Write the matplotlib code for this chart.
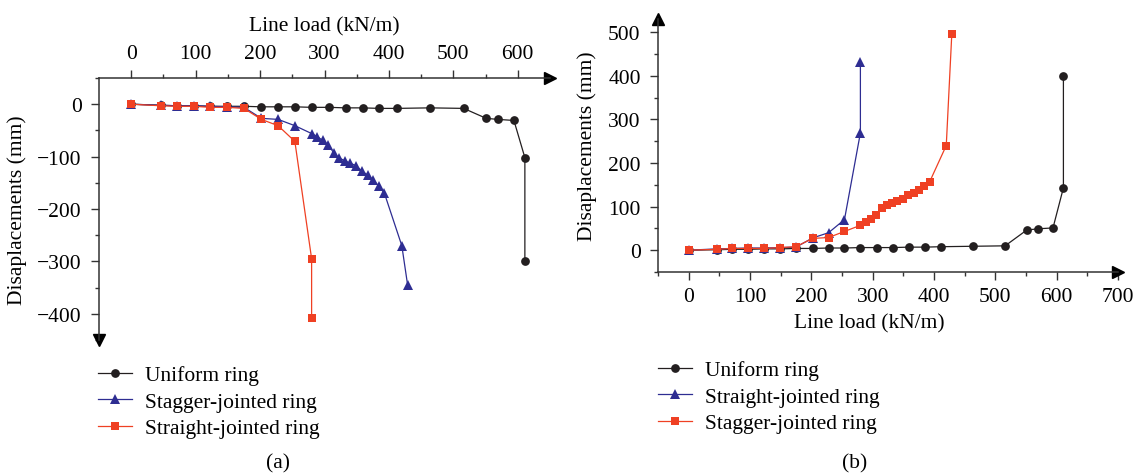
import matplotlib
matplotlib.use("Agg")
import matplotlib.pyplot as plt
from matplotlib.ticker import FixedLocator

plt.rcParams['font.family'] = ['Liberation Serif', 'DejaVu Serif']
plt.rcParams['font.size'] = 15.5

# line loads (kN/m)
load_uniform = [0, 46, 71, 97, 123, 149, 175, 202, 228, 254, 280, 307, 333, 359,
                385, 412, 464, 516, 551, 569, 594, 611, 611]
load_stagger = [0, 46, 71, 97, 123, 149, 175, 202, 228, 254, 280, 289, 297, 306,
                315, 323, 332, 340, 349, 358, 367, 375, 384, 393, 420, 429]
load_straight = [0, 46, 71, 97, 123, 149, 175, 202, 228, 254, 280, 280]

# (a) displacements, mm
disp_a_uniform = [0, -2, -3, -3, -4, -4, -4, -5, -5, -5, -6, -6, -7, -7, -8, -8,
                  -7, -8, -27, -29, -31, -102, -300]
disp_a_stagger = [0, -2, -3, -3, -4, -5, -6, -27, -29, -41, -56, -62, -69, -78,
                  -94, -103, -108, -113, -117, -128, -135, -144, -156, -170, -270, -345]
disp_a_straight = [0, -3, -4, -4, -6, -6, -8, -29, -41, -71, -295, -408]

# (b) displacements, mm
disp_b_uniform = [0, 1, 2, 2, 3, 3, 4, 4, 5, 5, 6, 6, 6, 7, 7, 8, 9, 10, 46, 49,
                  51, 143, 400]
disp_b_straight = [0, 3, 4, 5, 5, 6, 7, 28, 40, 70, 269, 432]
disp_b_stagger = [0, 2, 4, 4, 4, 6, 8, 27, 29, 43, 57, 65, 72, 80, 96, 104, 108,
                  113, 117, 126, 131, 137, 147, 157, 240, 495]

c_black = '#231f20'
c_blue = '#2e2d92'
c_red = '#ef4023'
spine_c = '#333333'

W, H = 1141, 477
fig = plt.figure(figsize=(W / 100, H / 100), dpi=100)

ax1 = fig.add_axes([99 / W, 1 - 341 / H, 451 / W, 262 / H])
ax2 = fig.add_axes([658 / W, 1 - 273 / H, 460 / W, 253 / H])

line_kw = dict(lw=0.9, markeredgewidth=0)

# (a)
ax1.plot(load_uniform, disp_a_uniform, '-o', color=c_black, ms=6.3,
         label='Uniform ring', **line_kw)
ax1.plot(load_stagger, disp_a_stagger, '-^', color=c_blue, ms=6.8,
         label='Stagger-jointed ring', **line_kw)
ax1.plot(load_straight, disp_a_straight, '-s', color=c_red, ms=6.2,
         label='Straight-jointed ring', **line_kw)
ax1.set_xlim(-50, 650)
ax1.set_ylim(-450, 50)
ax1.xaxis.set_ticks_position('top')
ax1.xaxis.set_label_position('top')
ax1.xaxis.set_major_locator(FixedLocator(range(0, 601, 100)))
ax1.xaxis.set_minor_locator(FixedLocator(range(50, 601, 100)))
ax1.yaxis.set_major_locator(FixedLocator(range(-400, 1, 100)))
ax1.yaxis.set_minor_locator(FixedLocator(range(-450, 51, 100)))
ax1.spines['right'].set_visible(False)
ax1.spines['bottom'].set_visible(False)
ax1.set_xlabel('Line load (kN/m)')
ax1.set_ylabel('Disaplacements (mm)')
ax1.xaxis.set_label_coords(0.5, 1.18)
ax1.yaxis.set_label_coords(-0.16, 0.5)
ax1.plot(1, 1, '>', color='black', ms=8, transform=ax1.transAxes, clip_on=False)
ax1.plot(0, 0, 'v', color='black', ms=8, transform=ax1.transAxes, clip_on=False)

# (b)
ax2.plot(load_uniform, disp_b_uniform, '-o', color=c_black, ms=6.3,
         label='Uniform ring', **line_kw)
ax2.plot(load_straight, disp_b_straight, '-^', color=c_blue, ms=6.8,
         label='Straight-jointed ring', **line_kw)
ax2.plot(load_stagger, disp_b_stagger, '-s', color=c_red, ms=6.2,
         label='Stagger-jointed ring', **line_kw)
ax2.set_xlim(-50, 700)
ax2.set_ylim(-50, 530)
ax2.xaxis.set_major_locator(FixedLocator(range(0, 701, 100)))
ax2.xaxis.set_minor_locator(FixedLocator(range(-50, 701, 100)))
ax2.yaxis.set_major_locator(FixedLocator(range(0, 501, 100)))
ax2.yaxis.set_minor_locator(FixedLocator(range(-50, 501, 100)))
ax2.spines['right'].set_visible(False)
ax2.spines['top'].set_visible(False)
ax2.set_xlabel('Line load (kN/m)')
ax2.set_ylabel('Disaplacements (mm)')
ax2.xaxis.set_label_coords(0.459, -0.162)
ax2.yaxis.set_label_coords(-0.133, 0.5)
ax2.plot(1, 0, '>', color='black', ms=8, transform=ax2.transAxes, clip_on=False)
ax2.plot(0, 1, '^', color='black', ms=8, transform=ax2.transAxes, clip_on=False)

for ax in (ax1, ax2):
    for s in ax.spines.values():
        s.set_color(spine_c)
        s.set_linewidth(1.1)
    ax.tick_params(which='major', length=6, width=1.0, color=spine_c, pad=5)
    ax.tick_params(which='minor', length=3, width=1.0, color=spine_c)
    ax.tick_params(axis='y', which='major', pad=6.5)

leg_kw = dict(frameon=False, loc='upper left', handlelength=1.6,
              handletextpad=0.6, labelspacing=0.3, borderpad=0,
              borderaxespad=0, fontsize=15.5)
h1, l1 = ax1.get_legend_handles_labels()
fig.legend(h1, l1, bbox_to_anchor=(98 / W, 1 - 366 / H), **leg_kw)
h2, l2 = ax2.get_legend_handles_labels()
fig.legend(h2, l2, bbox_to_anchor=(658 / W, 1 - 361 / H), **leg_kw)

fig.text(278 / W, 1 - 464 / H, '(a)', ha='center', va='center')
fig.text(855 / W, 1 - 464 / H, '(b)', ha='center', va='center')

fig.savefig('out.png', dpi=100)
